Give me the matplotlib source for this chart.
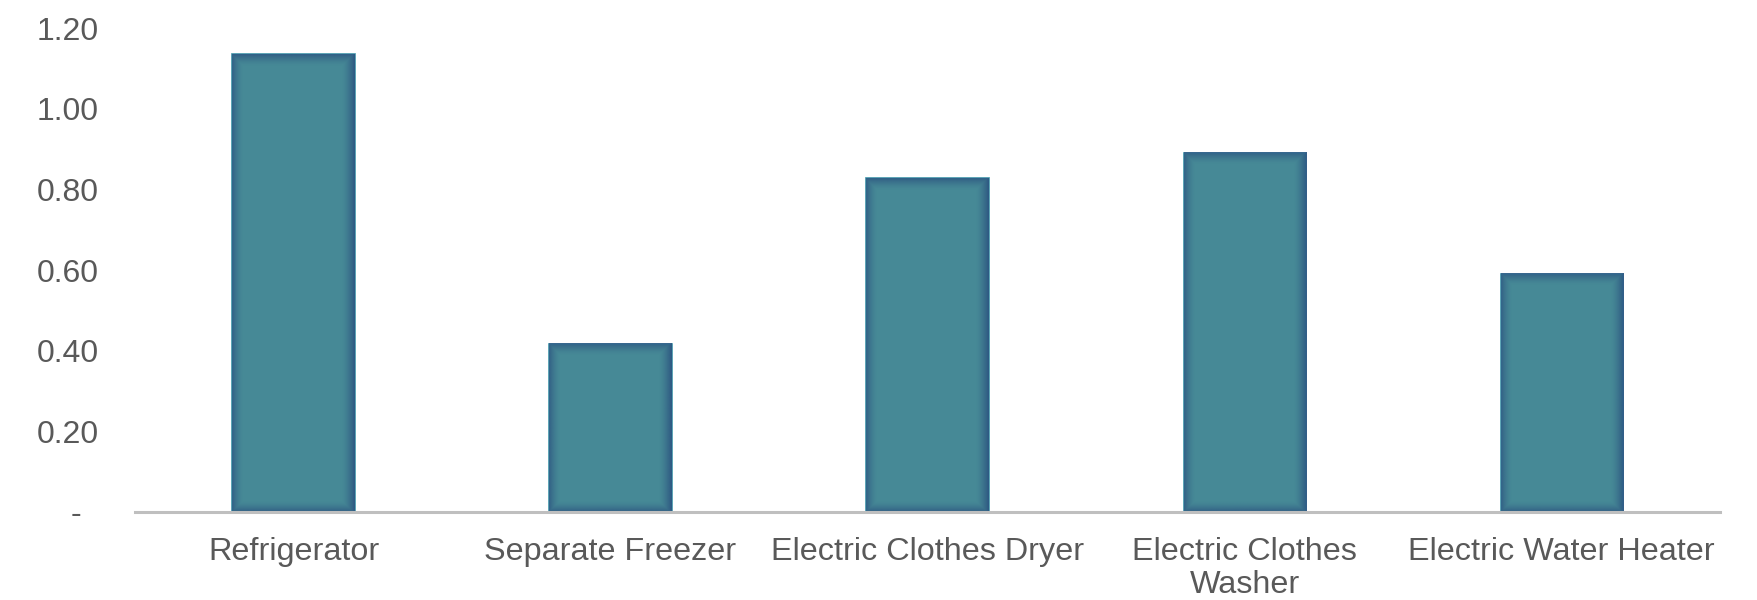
import numpy as np
import matplotlib
matplotlib.use("Agg")
import matplotlib.pyplot as plt
from matplotlib.colors import to_rgb

# Appliance consumption values
categories = ["Refrigerator", "Separate Freezer", "Electric Clothes Dryer",
              "Electric Clothes\nWasher", "Electric Water Heater"]
values = [1.135, 0.417, 0.828, 0.891, 0.591]
yticks = [0.0, 0.2, 0.4, 0.6, 0.8, 1.0, 1.2]
ytick_labels = ["-  ", "0.20", "0.40", "0.60", "0.80", "1.00", "1.20"]

plt.rcParams["font.family"] = ["Liberation Sans", "DejaVu Sans"]

fig = plt.figure(figsize=(17.58, 6.0), dpi=100)
ax = fig.add_axes([0.0768, 0.1467, 0.9016, 0.8063])

fill = "#468996"
glow = "#2a4f7e"
edge = "#3f93a8"
width = 0.385
x = np.arange(len(categories))
bars = ax.bar(x, values, width=width, color=fill, edgecolor=edge,
              linewidth=1.2, zorder=2)

ax.set_xlim(-0.5, len(categories) - 0.5)
ax.set_ylim(0, 1.2)
ax.set_yticks(yticks)
ax.set_yticklabels(ytick_labels)
ax.set_xticks(x)
ax.set_xticklabels(categories, linespacing=1.12)

for s in ["top", "right", "left"]:
    ax.spines[s].set_visible(False)
ax.spines["bottom"].set_color("#bfbfbf")
ax.spines["bottom"].set_linewidth(2.2)
ax.spines["bottom"].set_zorder(3)
ax.tick_params(axis="y", length=0, pad=26, labelsize=23, labelcolor="#595959")
ax.tick_params(axis="x", length=0, pad=18, labelsize=23.3, labelcolor="#595959")

# soft inner shadow along the edges of each bar
fig.canvas.draw()
gr = np.array(to_rgb(glow))
for b in bars:
    x0, y0 = b.get_x(), b.get_y()
    x1, y1 = x0 + b.get_width(), y0 + b.get_height()
    (px0, py0), (px1, py1) = ax.transData.transform([(x0, y0), (x1, y1)])
    w = max(int(round(px1 - px0)), 2)
    h = max(int(round(py1 - py0)), 2)
    cols = np.arange(w) + 0.5
    rows = np.arange(h) + 0.5
    dl = cols[None, :]
    dr = (w - cols)[None, :]
    dt = rows[:, None]
    db = (h - rows)[:, None]
    a = np.zeros((h, w))
    for d, k, s in [(dl, 0.7, 11.0), (dr, 0.88, 13.0), (dt, 0.75, 12.0), (db, 0.75, 11.0)]:
        a = np.maximum(a, k * np.clip(1 - d / s, 0, 1) ** 1.5)
    img = np.zeros((h, w, 4))
    img[..., :3] = gr
    img[..., 3] = a
    ax.imshow(img, extent=(x0, x1, y0, y1), origin="upper", aspect="auto",
              interpolation="bilinear", zorder=2.5)
ax.set_xlim(-0.5, len(categories) - 0.5)
ax.set_ylim(0, 1.2)

fig.savefig("out.png", dpi=100, facecolor="white")
